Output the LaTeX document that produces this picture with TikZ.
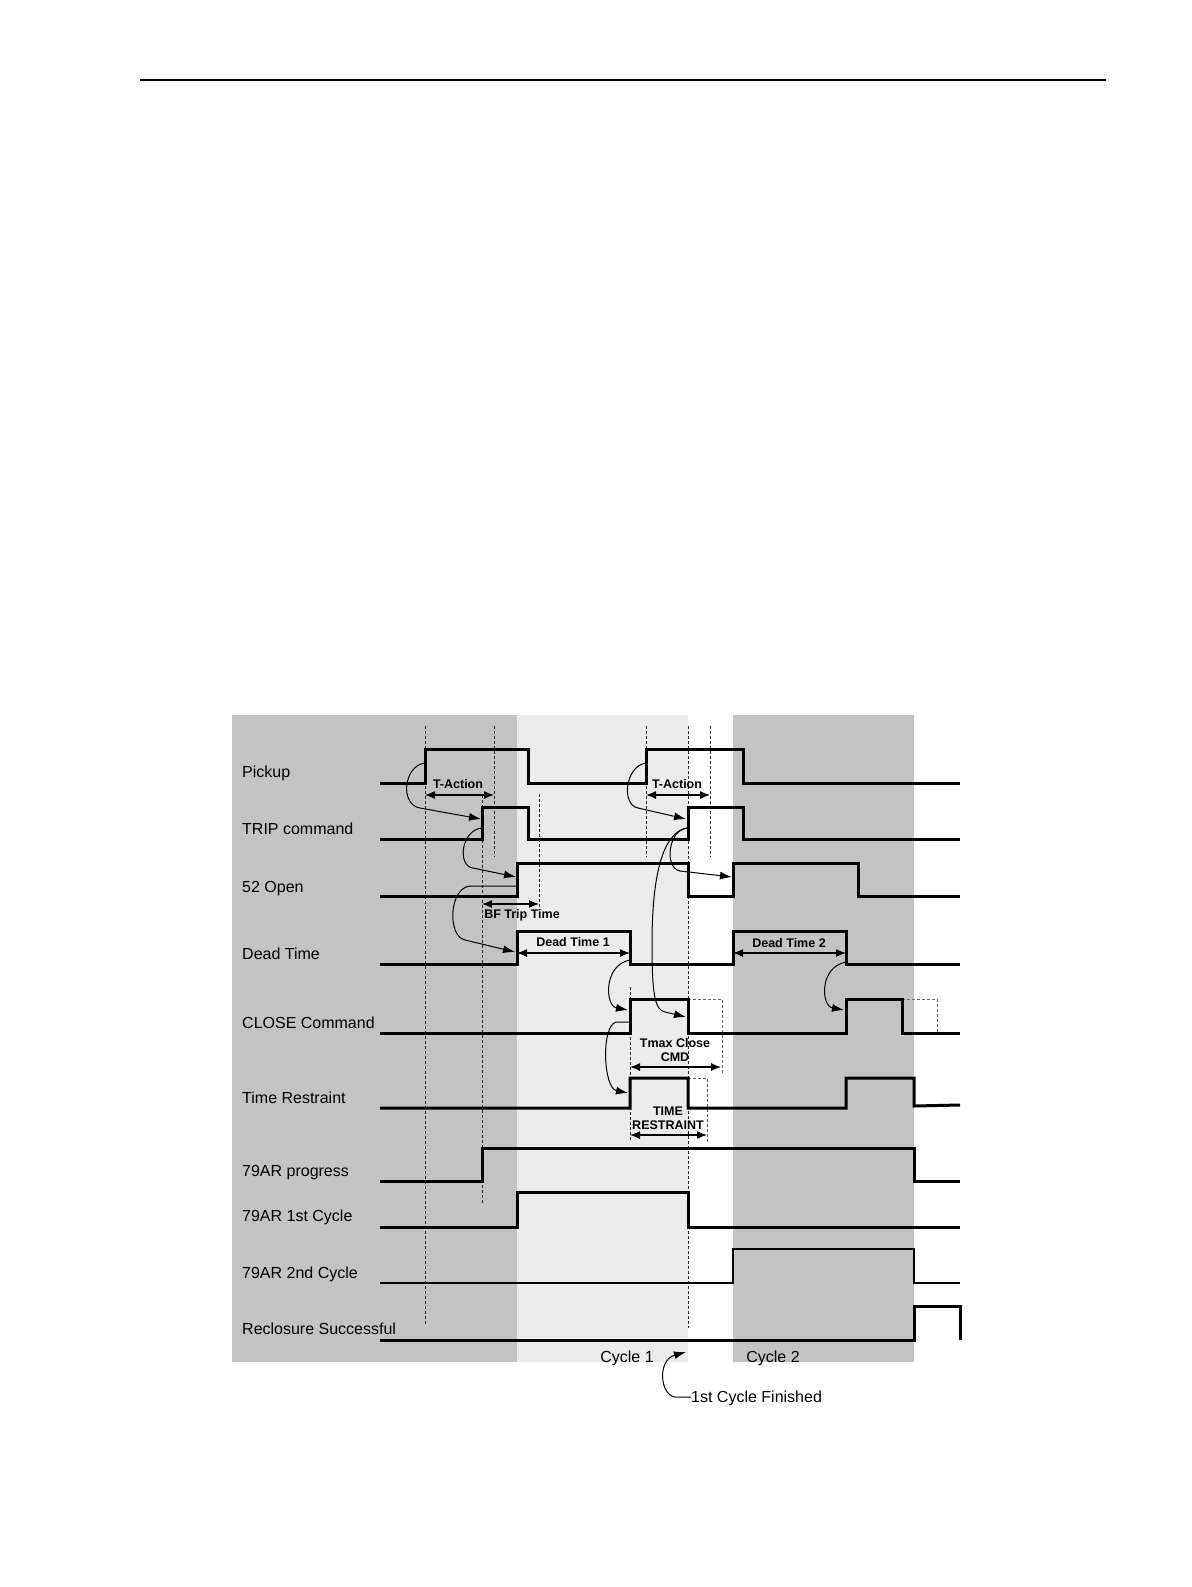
\documentclass[tikz,border=0pt]{standalone}
\usepackage{fontspec}
\setmainfont{Liberation Sans}
\usetikzlibrary{arrows.meta}
\definecolor{bgdark}{RGB}{195,195,195}
\definecolor{bglight}{RGB}{235,235,235}
\begin{document}
\begin{tikzpicture}[x=1pt,y=-1pt,
  sig/.style={line width=3pt, line join=miter},
  guide/.style={line width=0.9pt, black!85, dash pattern=on 3pt off 2pt},
  ghost/.style={line width=0.9pt, black!60, dash pattern=on 3pt off 2pt},
  lbl/.style={anchor=west, font=\fontsize{16}{19}\selectfont, inner sep=0pt, text height=11.5pt, text depth=0pt},
  tag/.style={font=\bfseries\fontsize{12.5}{14}\selectfont, inner sep=0pt, align=center},
  dimline/.style={line width=1.2pt, {Latex[length=10pt,width=8pt]}-{Latex[length=10pt,width=8pt]}},
  link/.style={line width=1pt, -{Latex[length=12pt,width=8pt]}},
]
\useasboundingbox (0,0) rectangle (1191,1587);
\fill[white] (0,0) rectangle (1191,1587);
\draw[line width=1.5pt] (140,80) -- (1106,80);
% backgrounds
\fill[bgdark] (232,715) rectangle (517,1362);
\fill[bglight] (517,715) rectangle (688,1362);
\fill[bgdark] (733,715) rectangle (914,1362);
% guide lines
\draw[guide] (425,726) -- (425,1324);
\draw[guide] (494,726) -- (494,857);
\draw[guide] (482,795) -- (482,1203);
\draw[guide] (539,794) -- (539,907);
\draw[guide] (646,726) -- (646,857);
\draw[guide] (710,726) -- (710,857);
\draw[guide] (688,726) -- (688,1328);
\draw[guide] (630,987) -- (630,1142);
\draw[ghost] (688,999) -- (722,999) -- (722,1073);
\draw[ghost] (688,1078) -- (707,1078) -- (707,1142);
\draw[ghost] (902,999) -- (937,999) -- (937,1033);
% signals
\draw[sig] (380,783) -- (425,783) -- (425,749) -- (528,749) -- (528,783) -- (646,783) -- (646,749) -- (743,749) -- (743,783) -- (960,783);
\draw[sig] (380,839) -- (482,839) -- (482,807) -- (528,807) -- (528,839) -- (688,839) -- (688,807) -- (743,807) -- (743,839) -- (960,839);
\draw[sig] (380,896) -- (517,896) -- (517,863) -- (688,863) -- (688,896) -- (733,896) -- (733,863) -- (858,863) -- (858,896) -- (960,896);
\draw[sig] (380,964) -- (517,964) -- (517,931) -- (630,931) -- (630,964) -- (733,964) -- (733,931) -- (846,931) -- (846,964) -- (960,964);
\draw[sig] (380,1033) -- (630,1033) -- (630,999) -- (688,999) -- (688,1033) -- (846,1033) -- (846,999) -- (902,999) -- (902,1033) -- (960,1033);
\draw[sig] (380,1108) -- (630,1108) -- (630,1078) -- (688,1078) -- (688,1108) -- (846,1108) -- (846,1078) -- (914,1078) -- (914,1106) -- (960,1105);
\draw[sig] (380,1181) -- (482,1181) -- (482,1148) -- (914,1148) -- (914,1181) -- (960,1181);
\draw[sig] (380,1227) -- (517,1227) -- (517,1192) -- (688,1192) -- (688,1227) -- (960,1227);
\draw[sig, line width=2.5pt] (380,1283) -- (733,1283) -- (733,1249) -- (914,1249) -- (914,1283) -- (960,1283);
\draw[sig] (380,1340) -- (914,1340) -- (914,1306) -- (960,1306) -- (960,1340);
% named points for connectors
\coordinate (pu1) at (425,763);  \coordinate (tr1) at (481,819);
\coordinate (tro1) at (482,828); \coordinate (op1) at (516,877);
\coordinate (opo1) at (517,886); \coordinate (dt1) at (515,952);
\coordinate (pu2) at (646,763);  \coordinate (tr2) at (686,819);
\coordinate (tro2) at (687,828); \coordinate (op2) at (732,877);
\coordinate (cl1f) at (686,1017);
\coordinate (dto1) at (630,960); \coordinate (cl1) at (628,1010);
\coordinate (clo1) at (630,1022); \coordinate (ts1) at (628,1093);
\coordinate (dto2) at (846,962); \coordinate (cl2) at (844,1010);
\coordinate (cyc) at (686,1352);
% dimension arrows
\draw[dimline] (425,795) -- (494,795);
\draw[dimline] (646,795) -- (710,795);
\draw[dimline] (482,904) -- (539,904);
\draw[dimline] (517,953) -- (630,953);
\draw[dimline] (733,953) -- (846,953);
\draw[dimline] (630,1067) -- (721,1067);
\draw[dimline] (630,1135) -- (707,1135);
% causal connectors
\draw[link] (pu1) .. controls (403,766) and (400,805) .. (420,808) -- (tr1);
\draw[link] (tro1) .. controls (461,830) and (457,866) .. (473,868) -- (op1);
\draw[link] (opo1) -- (470,886) .. controls (449,888) and (447,936) .. (465,940) -- (dt1);
\draw[link] (pu2) .. controls (625,766) and (621,805) .. (638,808) -- (tr2);
\draw[link] (tro2) .. controls (668,830) and (664,868) .. (680,871) -- (op2);
\draw[link] (tro2) .. controls (656,834) and (652,900) .. (652,945) .. controls (652,995) and (655,1010) .. (665,1012) -- (cl1f);
\draw[link] (dto1) .. controls (603,965) and (605,1006) .. (cl1);
\draw[link] (clo1) -- (616,1022) .. controls (601,1026) and (603,1088) .. (ts1);
\draw[link] (dto2) .. controls (819,967) and (821,1006) .. (cl2);
% labels
\node[lbl] (lPickup) at (242,772) {Pickup};
\node[lbl] (lTrip) at (242,829) {TRIP command};
\node[lbl] (lOpen) at (242,887) {52 Open};
\node[lbl] (lDead) at (242,954) {Dead Time};
\node[lbl] (lClose) at (242,1023) {CLOSE Command};
\node[lbl] (lTR) at (242,1098) {Time Restraint};
\node[lbl] (lProg) at (242,1171) {79AR progress};
\node[lbl] (lC1) at (242,1216) {79AR 1st Cycle};
\node[lbl] (lC2) at (242,1273) {79AR 2nd Cycle};
\node[lbl] (lRec) at (242,1329) {Reclosure Successful};
\node[tag] (tA1) at (458,784) {T-Action};
\node[tag] (tA2) at (677,784) {T-Action};
\node[tag] (tBF) at (522,915) {BF Trip Time};
\node[tag] (tD1) at (573,942) {Dead Time 1};
\node[tag] (tD2) at (789,943) {Dead Time 2};
\node[tag] (tTmax) at (675,1050) {Tmax Close\\CMD};
\node[tag] (tTR) at (668,1118) {TIME\\RESTRAINT};
\node[lbl, anchor=center] (cy1) at (627,1357) {Cycle 1};
\node[lbl, anchor=center] (cy2) at (773,1357) {Cycle 2};
\node[lbl] (fin) at (691,1397) {1st Cycle Finished};
\draw[link] (fin.west) -- (675,1397) .. controls (660,1395) and (657,1360) .. (cyc);
\end{tikzpicture}
\end{document}
